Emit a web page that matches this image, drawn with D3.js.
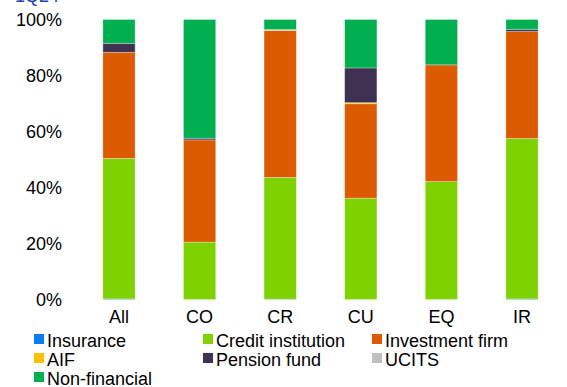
<!DOCTYPE html>
<html><head><meta charset="utf-8">
<script src="https://cdn.jsdelivr.net/npm/d3@7"></script>
<style>body{margin:0;background:#fff}svg{display:block;font-family:"Liberation Sans",Arial,sans-serif}</style>
</head><body><svg id="c" width="567" height="387"></svg>
<script>
const categories = ["All","CO","CR","CU","EQ","IR"];
const seriesNames = ["Insurance","Credit institution","Investment firm","AIF","Pension fund","UCITS","Non-financial"];
const insurance        = [0.2, 0.0, 0.1, 0.0, 0.0, 0.2];
const creditInst       = [50.2, 20.5, 43.5, 36.2, 42.1, 57.3];
const investmentFirm   = [37.9, 36.5, 52.5, 33.7, 41.7, 38.2];
const aif              = [0.0, 0.0, 0.0, 0.4, 0.0, 0.0];
const pensionFund      = [3.2, 0.6, 0.0, 12.4, 0.0, 0.8];
const ucits            = [0.0, 0.0, 0.3, 0.0, 0.0, 0.0];
const nonFinancial     = [8.5, 42.4, 3.6, 17.3, 16.2, 3.5];
const yTicks = [0,20,40,60,80,100];
const colors = ["#0A7DF0","#7DD200","#DC5A00","#FFC000","#3F3151","#BFBFBF","#00B050"];

const seriesVals = [insurance,creditInst,investmentFirm,aif,pensionFund,ucits,nonFinancial];
const rows = categories.map((c,i)=>{const r={cat:c};seriesNames.forEach((s,j)=>r[s]=seriesVals[j][i]);return r;});
const stack = d3.stack().keys(seriesNames)(rows);

const svg = d3.select("#c");
const x = d3.scaleBand().domain(categories).range([78.7,562.3]).paddingInner(0.6).paddingOuter(0.3);
const y = d3.scaleLinear().domain([0,100]).range([299.5,19.5]);

// title remnant (cut off at top in the reference)
svg.append("text").attr("x",15).attr("y",2).attr("fill","#1F3FA8").attr("font-size",18).text("1Q24");

svg.append("g").selectAll("g").data(stack).join("g").attr("fill",(d,i)=>colors[i])
  .selectAll("rect").data(d=>d).join("rect")
  .attr("x",d=>x(d.data.cat)).attr("width",x.bandwidth())
  .attr("y",d=>y(d[1])).attr("height",d=>Math.max(0,y(d[0])-y(d[1])))
  .attr("stroke","rgba(255,255,255,0.4)").attr("stroke-width",0.75);

const ya = svg.append("g").attr("transform","translate(62,0)")
  .call(d3.axisLeft(y).tickValues(yTicks).tickFormat(d=>d+"%").tickSize(0).tickPadding(0));
ya.select(".domain").remove();
ya.selectAll("text").attr("font-size",18).attr("fill","#000").attr("font-family","Liberation Sans, Arial, sans-serif");

const xa = svg.append("g").attr("transform","translate(0,299.5)")
  .call(d3.axisBottom(x).tickSize(0).tickPadding(11));
xa.select(".domain").remove();
xa.selectAll("text").attr("font-size",18).attr("fill","#000").attr("font-family","Liberation Sans, Arial, sans-serif");

const legCols=[34,203,372], legRows=[340,359,378];
const leg = svg.append("g").selectAll("g").data(seriesNames).join("g")
  .attr("transform",(d,i)=>`translate(${legCols[i%3]},${legRows[Math.floor(i/3)]})`);
leg.append("rect").attr("x",0).attr("y",-6).attr("width",10).attr("height",10).attr("fill",(d,i)=>colors[i]);
leg.append("text").attr("x",13).attr("y",6.5).attr("font-size",18).attr("fill","#000").text(d=>d);
</script></body></html>
